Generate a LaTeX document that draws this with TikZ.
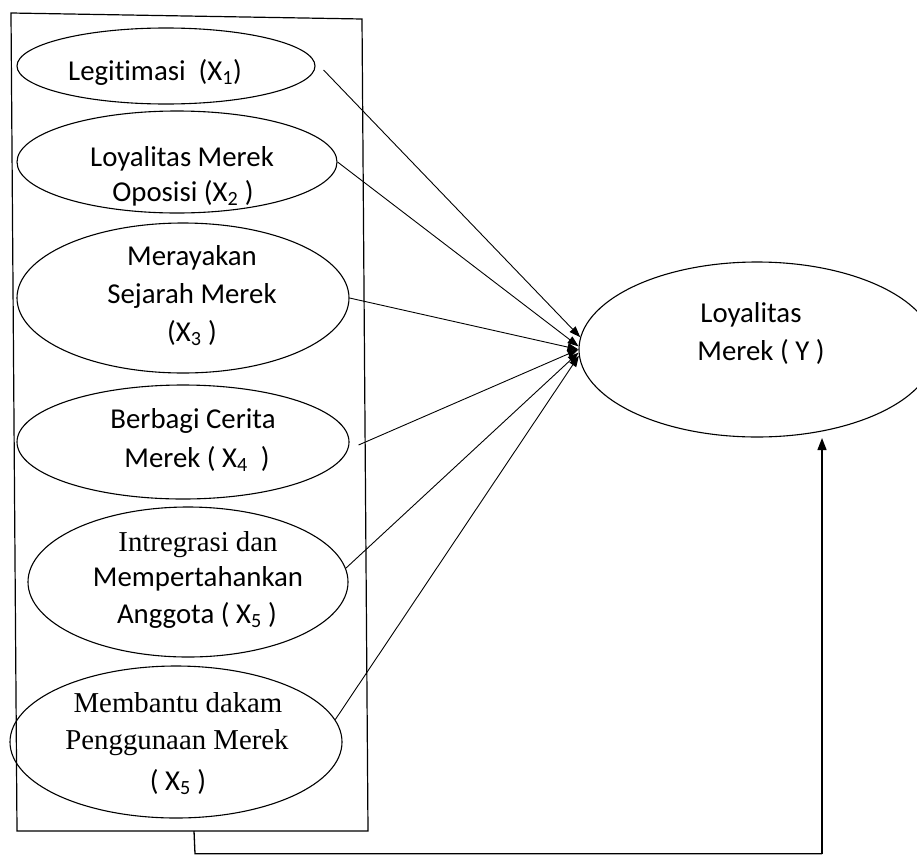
\documentclass[tikz,border=0pt]{standalone}
\usepackage{fontspec}
\setmainfont[Ligatures=NoCommon]{Carlito}
\newfontfamily\dgserif{Liberation Serif}
\usetikzlibrary{shapes.geometric,arrows.meta}
\newcommand\dgfont{\fontsize{28.8}{37}\selectfont}
\tikzset{
  ell/.style={draw, ellipse, inner sep=0pt, line width=1.1pt},
  txt/.style={anchor=base, inner sep=0pt, font=\dgfont},
  stxt/.style={anchor=base, inner sep=0pt, font=\dgfont\dgserif},
  arr/.style={line width=0.9pt, -{Triangle[length=11pt,width=8pt]}},
  frame/.style={line width=1.2pt},
}
\begin{document}
\begin{tikzpicture}[x=1pt,y=-1pt]
\clip (0,0) rectangle (917,854);
\fill[white] (0,0) rectangle (917,854);
% frame
\coordinate (ftl) at (11,13);
\coordinate (ftr) at (362,19);
\coordinate (fbr) at (368,831);
\coordinate (fbl) at (17,831);
\draw[frame] (ftl) -- (ftr) -- (fbr) -- (fbl) -- cycle;
% ellipses
\node[ell, minimum width=298pt, minimum height=76pt] (e1) at (166,66) {};
\node[ell, minimum width=320pt, minimum height=102pt] (e2) at (177,162) {};
\node[ell, minimum width=332pt, minimum height=150pt] (e3) at (183,298) {};
\node[ell, minimum width=332pt, minimum height=114pt] (e4) at (183,442) {};
\node[ell, minimum width=320pt, minimum height=150pt] (e5) at (188,582) {};
\node[ell, minimum width=332pt, minimum height=152pt] (e6) at (176,742) {};
\node[ell, minimum width=356pt, minimum height=175pt] (y) at (757,349.5) {};
% texts
\node[txt] (t1) at (155,80) {Legitimasi\ \ (X\textsubscript{1})};
\node[txt] (t2a) at (182,166) {Loyalitas Merek};
\node[txt] (t2b) at (183,201) {Oposisi (X\textsubscript{2} )};
\node[txt] (t3a) at (192,265) {Merayakan};
\node[txt] (t3b) at (192,303) {Sejarah Merek};
\node[txt] (t3c) at (192,341) {(X\textsubscript{3} )};
\node[txt] (t4a) at (193,428) {Berbagi Cerita};
\node[txt] (t4b) at (197,467) {Merek ( X\textsubscript{4}\ \ )};
\node[stxt] (t5a) at (198,551) {Intregrasi dan};
\node[txt] (t5b) at (198,586) {Mempertahankan};
\node[txt] (t5c) at (197,623) {Anggota ( X\textsubscript{5} )};
\node[stxt] (t6a) at (178,712) {Membantu dakam};
\node[stxt] (t6b) at (177,749) {Penggunaan Merek};
\node[txt] (t6c) at (178,790) {( X\textsubscript{5} )};
\node[txt] (ty1) at (751,322) {Loyalitas};
\node[txt] (ty2) at (761,360) {Merek ( Y )};
% arrows
\draw[arr] ([shift={(8,4)}]e1.east) -- (y.176);
\draw[arr] (e2.east) -- (y.179);
\draw[arr] (e3.east) -- (y.west);
\draw[arr] ([shift={(9,3)}]e4.east) -- (y.west);
\draw[arr] (e5.5) -- (y.181);
\draw[arr] (e6.8) -- (y.182);
% bottom connector
\coordinate (rb) at (194,831);
\coordinate (c1) at (195,853.8);
\coordinate (c2) at (822,853.8);
\coordinate (ytip) at (822,438);
\draw[line width=1.3pt] (rb) -- (c1) -- (c2);
\draw[line width=1.3pt, -{Triangle[length=12pt,width=9pt]}] (c2) -- (ytip);
\end{tikzpicture}
\end{document}
